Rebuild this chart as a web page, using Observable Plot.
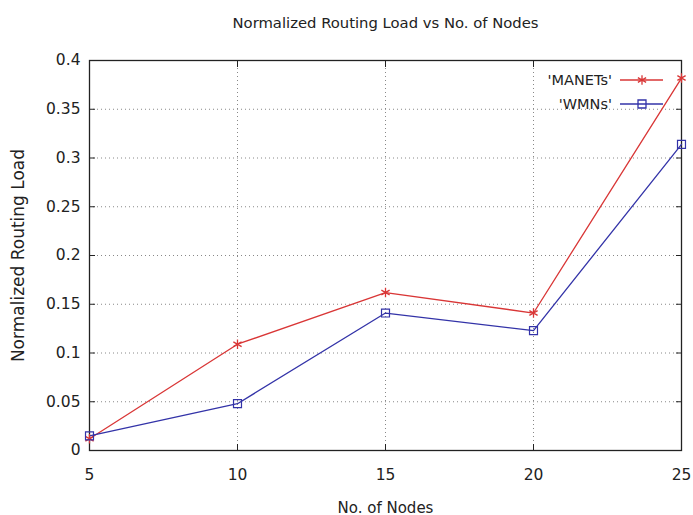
<!DOCTYPE html>
<html>
<head>
<meta charset="utf-8">
<script src="https://cdn.jsdelivr.net/npm/d3@7"></script>
<script src="https://cdn.jsdelivr.net/npm/@observablehq/plot@0.6"></script>
<style>
  html, body { margin: 0; padding: 0; background: #fff; }
  #wrap { position: relative; width: 693px; height: 515px; }
  svg { overflow: visible; }
</style>
</head>
<body>
<div id="wrap"></div>
<script>
const nodes = [5, 10, 15, 20, 25];
const manets = [0.012, 0.109, 0.162, 0.141, 0.382];
const wmns = [0.015, 0.048, 0.141, 0.123, 0.314];
const seriesNames = ["'MANETs'", "'WMNs'"];
const seriesColors = ["#d93636", "#3333a8"];
const xTicks = [5, 10, 15, 20, 25];
const yTicks = [0, 0.05, 0.1, 0.15, 0.2, 0.25, 0.3, 0.35, 0.4];
const yTickLabels = ["0", "0.05", "0.1", "0.15", "0.2", "0.25", "0.3", "0.35", "0.4"];
const title = "Normalized Routing Load vs No. of Nodes";
const xLabel = "No. of Nodes";
const yLabel = "Normalized Routing Load";

const data = [];
nodes.forEach((n, i) => {
  data.push({x: n, y: manets[i], s: seriesNames[0]});
  data.push({x: n, y: wmns[i], s: seriesNames[1]});
});
const mData = data.filter(d => d.s === seriesNames[0]);
const wData = data.filter(d => d.s === seriesNames[1]);

const font = "DejaVu Sans, sans-serif";

const chart = Plot.plot({
  width: 693,
  height: 515,
  marginLeft: 89,
  marginRight: 12,
  marginTop: 60,
  marginBottom: 65,
  style: {fontFamily: font, fontSize: "15px", color: "#222", background: "#fff"},
  x: {domain: [5, 25], ticks: xTicks},
  y: {domain: [0, 0.4], ticks: yTicks},
  marks: [
    Plot.gridX(xTicks, {stroke: "#888", strokeOpacity: 1, strokeDasharray: "1,3", strokeWidth: 1}),
    Plot.gridY(yTicks, {stroke: "#888", strokeOpacity: 1, strokeDasharray: "1,3", strokeWidth: 1}),
    Plot.axisX(xTicks, {anchor: "bottom", tickSize: -6, tickPadding: 24, label: null, tickFormat: d => String(d), stroke: "#222", fontSize: 15.5}),
    Plot.axisX(xTicks, {anchor: "top", tickSize: -6, label: null, tickFormat: () => "", stroke: "#222"}),
    Plot.axisY(yTicks, {anchor: "left", tickSize: -6, tickPadding: 15, label: null, tickFormat: (d, i) => yTickLabels[i], stroke: "#222", fontSize: 15.5}),
    Plot.axisY(yTicks, {anchor: "right", tickSize: -6, label: null, tickFormat: () => "", stroke: "#222"}),
    Plot.frame({stroke: "#222", strokeWidth: 1.3}),
    Plot.line(mData, {x: "x", y: "y", stroke: seriesColors[0], strokeWidth: 1.3}),
    Plot.line(wData, {x: "x", y: "y", stroke: seriesColors[1], strokeWidth: 1.3}),
    Plot.dot(mData, {x: "x", y: "y", symbol: "asterisk", r: 4.5, stroke: seriesColors[0], strokeWidth: 1.3}),
    Plot.dot(wData, {x: "x", y: "y", symbol: "square", r: 4.5, stroke: seriesColors[1], fill: "none", strokeWidth: 1.2}),
    Plot.text([title], {frameAnchor: "top", dy: -43, text: d => d, fontSize: 14.8, fill: "#222"}),
    Plot.text([xLabel], {frameAnchor: "bottom", dy: 62, text: d => d, fontSize: 15, fill: "#222"}),
    Plot.text([yLabel], {frameAnchor: "left", dx: -71, rotate: -90, textAnchor: "middle", text: d => d, fontSize: 17, fill: "#222"})
  ]
});
document.getElementById("wrap").appendChild(chart);

// Legend overlay (inside plot, top-right)
const ns = "http://www.w3.org/2000/svg";
const lg = document.createElementNS(ns, "svg");
lg.setAttribute("width", 150);
lg.setAttribute("height", 50);
lg.style.position = "absolute";
lg.style.left = "520px";
lg.style.top = "68px";
seriesNames.forEach((name, i) => {
  const yy = 12 + i * 24;
  const t = document.createElementNS(ns, "text");
  t.setAttribute("x", 92);
  t.setAttribute("y", yy + 5);
  t.setAttribute("text-anchor", "end");
  t.setAttribute("font-family", font);
  t.setAttribute("font-size", 14.5);
  t.setAttribute("fill", "#222");
  t.textContent = name;
  lg.appendChild(t);
  const l = document.createElementNS(ns, "line");
  l.setAttribute("x1", 100); l.setAttribute("x2", 143);
  l.setAttribute("y1", yy); l.setAttribute("y2", yy);
  l.setAttribute("stroke", seriesColors[i]); l.setAttribute("stroke-width", 1.3);
  lg.appendChild(l);
  const cx = 122;
  const sym = d3.symbol(i === 0 ? d3.symbolAsterisk : d3.symbolSquare, Math.PI * 4.5 * 4.5)();
  const p = document.createElementNS(ns, "path");
  p.setAttribute("d", sym);
  p.setAttribute("transform", `translate(${cx},${yy})`);
  p.setAttribute("stroke", seriesColors[i]); p.setAttribute("fill", "none"); p.setAttribute("stroke-width", 1.3);
  lg.appendChild(p);
});
document.getElementById("wrap").appendChild(lg);
</script>
</body>
</html>
